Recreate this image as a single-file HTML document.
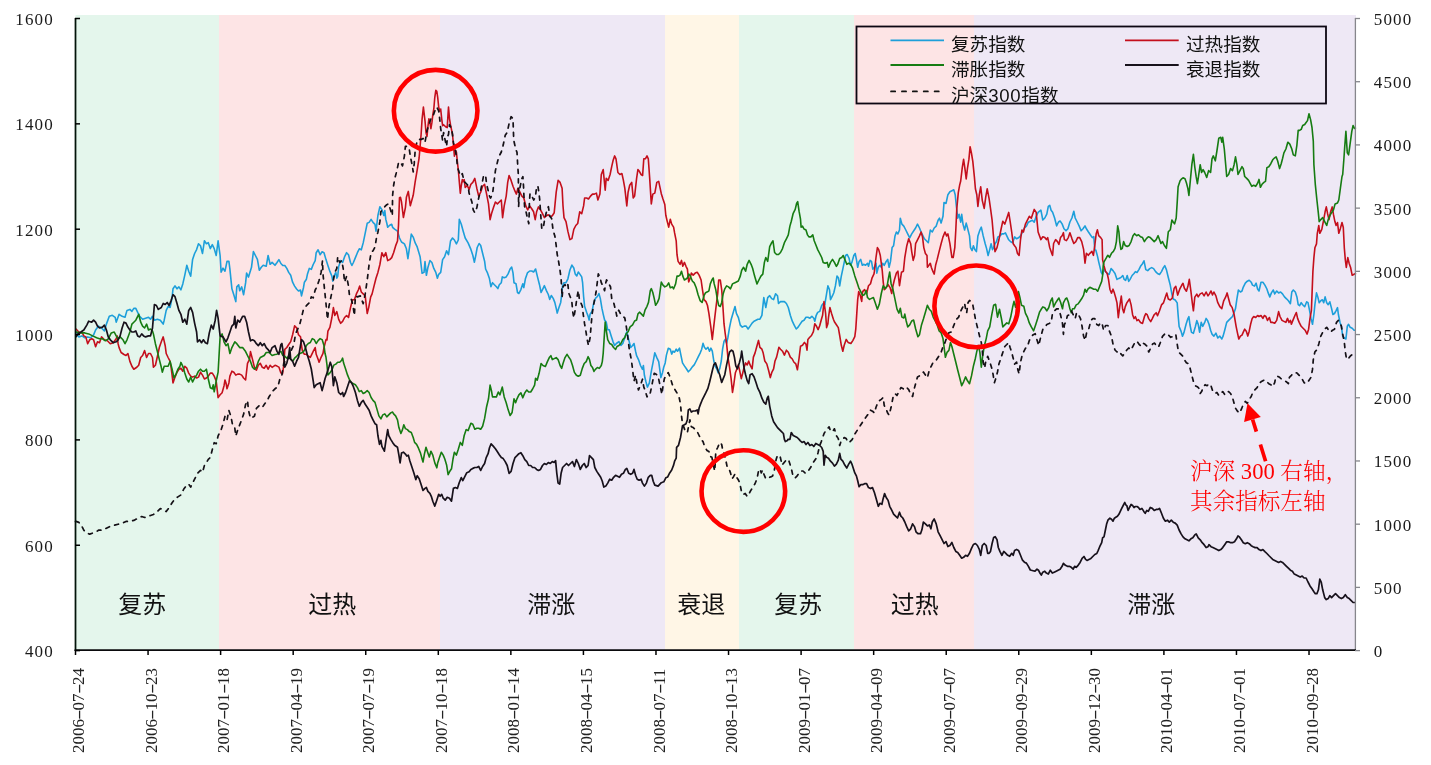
<!DOCTYPE html><html><head><meta charset="utf-8"><style>

html,body{margin:0;padding:0;background:#fff;}
body{width:1431px;height:765px;position:relative;overflow:hidden;}
.t{position:absolute;white-space:nowrap;line-height:1;}
.yl{font-family:"Liberation Serif",serif;font-size:17px;letter-spacing:1.2px;color:#1a1a1a;text-align:right;width:60px;}
.yr{font-family:"Liberation Serif",serif;font-size:17px;letter-spacing:1.2px;color:#1a1a1a;}
.dt{font-family:"Liberation Serif",serif;font-size:17px;color:#222;transform-origin:0 0;transform:rotate(-90deg);}
.dt i{font-style:normal;display:inline-block;width:.5em;text-align:center;transform:scaleX(1.8);}
.lg{font-family:"Liberation Sans","Noto Sans CJK SC",sans-serif;font-size:18.6px;color:#111;}
.ph{font-family:"Liberation Sans","Noto Sans CJK SC",sans-serif;font-size:24px;color:#111;}
.an{font-family:"Liberation Serif","Noto Serif CJK SC",serif;font-size:22.6px;color:#ff0000;font-weight:300;}

</style></head><body>
<svg width="1431" height="765" viewBox="0 0 1431 765" style="position:absolute;left:0;top:0"><rect x="75.5" y="15" width="143.5" height="636" fill="#e4f6ec"/><rect x="219" y="15" width="221.0" height="636" fill="#fde4e5"/><rect x="440" y="15" width="225.0" height="636" fill="#eee8f5"/><rect x="665" y="15" width="74.0" height="636" fill="#fff6e6"/><rect x="739" y="15" width="115.0" height="636" fill="#e4f6ec"/><rect x="854" y="15" width="120.0" height="636" fill="#fde4e5"/><rect x="974" y="15" width="382.0" height="636" fill="#eee8f5"/><path d="M75.5,333.9 L76.0,333.9 L78.9,336.9 L81.9,335.9 L84.8,337.8 L87.7,336.9 L90.7,337.8 L93.6,334.9 L95.6,330.0 L98.5,326.1 L101.5,328.0 L104.4,331.0 L106.4,324.1 L109.3,316.3 L112.3,315.3 L115.2,317.3 L116.2,322.2 L119.1,314.3 L122.1,316.3 L125.0,317.3 L127.0,310.4 L129.9,309.4 L131.9,311.4 L133.8,308.4 L135.8,308.4 L137.7,312.4 L139.7,316.3 L142.6,319.2 L145.6,318.2 L148.5,317.3 L150.5,319.2 L152.5,316.3 L154.4,320.2 L157.4,319.2 L160.3,320.2 L163.2,324.1 L164.2,320.2 L166.2,310.4 L168.1,306.5 L170.1,307.5 L172.1,297.6 L173.0,288.8 L175.0,285.9 L177.0,288.8 L178.9,286.9 L180.9,289.8 L182.8,283.9 L184.8,275.1 L186.8,265.3 L188.7,271.2 L190.7,276.1 L192.6,259.4 L194.6,253.5 L196.6,249.6 L198.5,243.7 L200.5,245.7 L202.5,253.5 L204.4,240.8 L206.4,243.7 L208.3,242.7 L210.3,248.6 L212.3,244.7 L214.2,248.6 L216.2,255.5 L218.1,240.8 L220.1,255.5 L221.1,272.2 L223.0,268.2 L225.0,271.2 L227.0,261.4 L228.9,261.4 L229.9,269.2 L231.9,288.8 L233.8,294.7 L235.8,301.6 L236.8,286.9 L238.7,284.9 L239.7,290.8 L241.7,286.9 L243.6,294.7 L245.6,282.9 L246.6,273.1 L248.5,277.1 L251.5,267.3 L253.4,251.6 L255.4,255.5 L257.4,259.4 L259.3,270.2 L261.3,267.3 L263.2,265.3 L266.2,266.3 L268.1,255.5 L270.1,264.3 L272.1,262.4 L275.0,265.3 L277.0,262.5 L278.9,259.6 L280.9,263.5 L282.8,265.5 L284.8,265.5 L286.8,268.4 L288.7,272.4 L290.7,275.3 L292.6,282.2 L294.6,286.1 L296.6,289.0 L298.5,291.0 L300.5,290.0 L301.5,295.9 L303.4,288.0 L304.4,282.2 L306.4,279.2 L307.4,274.3 L309.3,268.4 L311.3,269.4 L313.2,264.5 L315.2,260.6 L316.2,252.7 L318.1,249.8 L320.1,254.7 L322.1,251.8 L324.0,252.7 L326.0,259.6 L327.9,265.5 L329.9,271.4 L331.9,276.3 L332.8,281.2 L333.8,276.3 L335.8,272.4 L336.8,278.2 L337.7,276.3 L338.7,266.5 L340.7,260.6 L342.6,262.5 L344.6,256.7 L346.6,252.7 L348.5,254.7 L350.5,262.5 L351.9,265.5 L353.4,262.5 L355.4,257.6 L357.4,252.7 L359.3,248.8 L361.3,249.8 L363.2,242.9 L365.2,233.1 L367.2,223.3 L369.1,222.4 L371.1,219.4 L373.0,222.4 L375.0,224.3 L376.0,231.2 L377.9,215.5 L379.9,206.7 L381.9,209.6 L383.8,215.5 L384.8,210.6 L385.8,219.4 L386.8,223.3 L387.7,227.3 L389.7,225.3 L391.7,224.3 L392.6,227.3 L394.6,229.2 L397.5,231.2 L399.5,238.0 L401.5,242.0 L404.4,243.9 L406.4,248.8 L407.9,258.6 L409.3,248.8 L411.3,234.1 L413.2,237.1 L415.2,242.9 L417.2,246.9 L420.1,256.7 L422.1,273.3 L424.0,272.4 L425.0,261.6 L426.4,275.3 L427.9,267.5 L429.9,260.6 L431.9,262.5 L433.8,268.4 L435.8,272.4 L437.4,278.2 L438.7,274.3 L440.7,272.4 L442.6,259.6 L444.6,256.7 L446.6,250.8 L448.5,254.7 L450.5,241.0 L452.5,238.0 L454.4,240.0 L456.4,243.9 L458.3,240.0 L459.3,219.4 L461.3,224.3 L463.2,231.2 L465.2,238.0 L468.1,242.9 L470.9,249.4 L472.8,255.3 L474.4,262.2 L475.8,255.3 L477.2,247.5 L479.1,243.5 L480.7,245.5 L482.6,253.3 L484.6,261.2 L485.6,269.0 L487.5,272.9 L489.5,278.8 L490.9,286.7 L492.5,282.7 L494.4,284.7 L496.4,286.7 L497.9,288.6 L499.3,284.7 L501.3,282.7 L502.3,276.9 L504.2,277.8 L506.2,276.9 L508.1,273.9 L510.1,269.0 L511.7,267.1 L513.0,272.9 L514.0,282.7 L516.0,283.7 L517.5,292.5 L518.9,293.5 L520.9,289.6 L522.8,283.7 L523.8,287.6 L525.4,278.8 L527.4,272.9 L529.7,271.0 L531.7,271.0 L533.6,272.0 L535.6,269.0 L537.5,276.9 L539.5,284.7 L541.1,292.5 L543.0,288.6 L544.4,285.7 L546.4,290.6 L548.3,294.5 L549.7,299.4 L551.3,295.5 L553.2,298.4 L554.8,302.4 L556.2,308.2 L557.2,313.1 L558.7,308.2 L560.7,302.4 L561.7,294.5 L562.6,285.7 L564.0,282.7 L566.0,282.7 L567.9,278.8 L569.9,270.0 L571.9,265.1 L573.8,268.0 L575.2,273.9 L576.8,275.9 L578.3,272.0 L579.7,273.9 L581.7,276.9 L582.6,282.7 L583.6,296.5 L584.6,306.3 L586.6,312.2 L588.1,316.1 L589.1,320.0 L590.1,314.1 L592.1,311.2 L593.4,304.3 L595.4,298.4 L597.4,296.5 L598.9,293.5 L600.3,298.4 L601.9,308.2 L603.2,314.1 L604.6,320.0 L606.2,322.0 L607.7,329.8 L609.3,329.8 L611.1,335.7 L613.0,341.6 L614.6,345.5 L616.4,343.5 L618.9,341.6 L620.9,345.5 L622.8,343.5 L624.8,337.6 L626.8,331.8 L628.7,339.6 L630.7,347.5 L632.6,345.5 L634.0,343.5 L635.6,351.4 L636.6,355.7 L638.5,359.6 L640.5,365.5 L642.5,369.4 L643.4,365.5 L644.4,375.3 L645.8,381.2 L647.4,387.1 L649.3,383.1 L651.3,371.4 L653.2,361.6 L654.8,352.7 L656.8,357.6 L658.7,361.6 L660.9,377.6 L662.5,372.7 L663.8,366.9 L665.2,362.9 L666.4,355.1 L668.3,348.2 L670.3,349.2 L671.7,354.1 L673.0,351.2 L674.6,352.2 L676.2,349.2 L677.5,351.2 L679.5,348.2 L680.9,355.1 L682.5,362.9 L684.4,365.9 L686.4,368.8 L688.3,371.8 L690.3,369.8 L692.3,366.9 L694.2,364.9 L696.2,361.0 L698.1,357.1 L700.1,353.1 L701.7,349.2 L703.0,343.3 L704.4,347.3 L706.0,349.2 L707.9,347.3 L709.5,351.2 L710.9,348.2 L712.3,351.2 L713.8,361.0 L715.4,366.9 L716.8,368.8 L718.1,372.7 L719.7,368.8 L721.3,361.0 L722.6,349.2 L724.0,341.4 L725.2,339.4 L726.6,343.3 L727.9,337.5 L729.5,327.6 L731.1,319.8 L735.0,306.5 L736.4,313.3 L738.3,317.3 L740.3,325.1 L742.3,327.1 L744.2,326.1 L746.2,326.1 L748.1,329.0 L750.1,326.1 L752.1,323.1 L754.0,321.2 L756.0,320.2 L757.9,319.2 L759.9,319.2 L761.9,315.3 L763.8,297.6 L765.8,307.5 L767.7,297.6 L769.7,295.7 L771.7,298.6 L773.6,299.6 L775.6,293.7 L777.5,295.7 L778.5,303.5 L780.5,301.6 L782.5,301.6 L784.4,301.6 L786.4,303.5 L788.3,307.5 L790.3,315.3 L792.3,321.2 L794.2,325.1 L796.2,329.0 L798.1,327.1 L800.1,324.1 L802.1,321.2 L804.0,320.2 L806.0,317.3 L807.9,317.3 L809.9,318.2 L811.9,316.3 L813.8,318.2 L814.8,321.2 L816.2,315.3 L817.7,312.4 L819.7,311.4 L821.7,305.5 L823.2,303.5 L824.8,304.5 L826.6,293.7 L827.9,285.9 L829.5,289.8 L830.5,299.6 L832.5,295.7 L833.8,292.7 L835.4,285.9 L837.0,276.1 L838.5,278.0 L839.7,285.9 L841.3,276.1 L842.8,269.2 L844.2,262.4 L845.6,255.5 L847.2,254.5 L849.1,258.4 L850.5,265.3 L851.9,262.4 L853.8,255.5 L855.2,253.5 L856.4,259.4 L857.7,267.3 L859.1,261.4 L860.7,259.4 L862.3,265.3 L863.6,264.3 L865.6,265.3 L867.5,263.3 L868.5,266.3 L870.1,260.4 L871.5,261.4 L872.8,269.2 L874.4,267.3 L876.0,263.3 L876.8,273.1 L878.3,267.3 L879.9,265.3 L881.3,267.3 L882.6,263.3 L884.2,265.3 L886.2,261.4 L887.7,259.4 L889.1,267.3 L890.5,261.4 L892.1,247.6 L893.6,245.7 L895.0,235.9 L896.4,232.0 L897.9,233.9 L899.5,230.0 L900.3,218.2 L901.9,224.1 L903.8,226.1 L905.8,230.0 L907.7,233.9 L909.7,237.8 L911.7,233.9 L913.6,231.0 L915.6,228.0 L917.5,224.1 L919.5,228.0 L921.1,232.0 L922.5,234.9 L924.4,238.8 L926.4,240.8 L928.3,242.7 L930.3,230.0 L932.3,232.0 L934.2,228.0 L936.2,226.1 L938.1,220.2 L939.5,218.2 L941.1,223.1 L943.0,216.3 L944.0,202.5 L946.0,203.5 L947.9,194.7 L949.9,191.8 L951.9,190.8 L953.8,189.8 L955.2,194.7 L956.4,206.5 L957.7,218.2 L959.1,214.3 L960.7,222.2 L961.7,214.3 L963.0,224.1 L964.6,230.0 L966.2,223.1 L967.5,228.0 L969.5,235.9 L970.5,247.6 L972.1,250.6 L973.4,245.7 L974.8,249.6 L976.4,251.6 L977.9,235.9 L979.9,230.0 L981.3,227.1 L983.2,235.9 L985.2,243.7 L986.6,248.6 L988.1,255.5 L989.7,249.6 L991.1,243.7 L992.5,249.6 L993.6,247.6 L995.0,243.7 L996.4,241.8 L997.9,236.9 L999.9,235.9 L1001.9,233.9 L1003.8,233.9 L1005.4,232.9 L1006.8,235.9 L1008.7,239.8 L1010.7,241.8 L1012.6,242.7 L1014.6,236.9 L1016.6,238.8 L1018.5,237.8 L1020.5,235.9 L1022.5,232.0 L1024.4,228.0 L1026.4,226.1 L1028.3,222.2 L1030.3,221.2 L1032.3,220.2 L1034.2,222.2 L1036.2,216.3 L1038.1,212.4 L1040.9,210.2 L1042.8,220.0 L1044.8,218.0 L1046.8,214.1 L1048.3,206.3 L1049.7,205.3 L1051.1,210.2 L1052.6,212.2 L1054.6,218.0 L1056.6,225.9 L1058.5,222.0 L1060.1,221.0 L1062.1,223.9 L1064.0,228.8 L1066.0,230.8 L1067.9,228.8 L1069.9,222.0 L1071.9,218.0 L1073.8,211.2 L1075.2,218.0 L1077.2,222.0 L1079.1,225.9 L1081.1,230.8 L1083.0,228.8 L1085.0,225.9 L1086.4,228.8 L1088.3,231.8 L1090.3,234.7 L1092.3,237.6 L1093.8,236.7 L1094.8,250.0 L1095.8,250.0 L1097.4,255.9 L1098.7,261.8 L1100.1,267.6 L1101.3,272.5 L1102.6,274.5 L1104.0,269.6 L1105.6,271.6 L1107.2,273.5 L1109.1,274.5 L1111.1,268.6 L1113.0,270.6 L1115.0,273.5 L1117.0,279.4 L1118.9,278.4 L1120.9,277.5 L1122.8,275.5 L1124.2,279.4 L1125.6,280.4 L1127.2,275.5 L1128.7,281.4 L1130.1,279.4 L1132.1,275.5 L1134.0,273.5 L1135.4,271.6 L1137.0,272.5 L1138.9,269.6 L1140.9,265.7 L1142.5,263.7 L1144.0,260.8 L1145.8,269.6 L1147.7,270.6 L1149.7,268.6 L1151.7,267.6 L1153.6,268.6 L1155.6,271.6 L1157.5,273.5 L1159.5,274.5 L1161.5,271.6 L1163.4,267.6 L1164.8,265.7 L1166.4,269.6 L1168.3,277.5 L1170.3,285.3 L1171.9,294.1 L1173.2,299.0 L1175.2,300.0 L1177.2,302.9 L1178.1,314.7 L1179.1,326.5 L1181.1,331.4 L1182.5,336.3 L1184.0,332.4 L1186.0,324.5 L1187.9,318.6 L1188.9,316.7 L1189.9,324.5 L1191.5,332.4 L1193.4,333.3 L1195.4,326.5 L1196.8,320.6 L1198.2,324.3 L1199.6,332.2 L1201.2,322.4 L1202.7,326.3 L1204.7,322.4 L1206.1,318.4 L1207.5,320.4 L1209.0,324.3 L1210.6,330.2 L1212.0,334.1 L1213.9,336.1 L1215.9,333.1 L1217.8,338.0 L1219.8,336.1 L1221.8,339.0 L1223.1,336.1 L1224.7,330.2 L1226.7,322.4 L1228.6,320.4 L1230.6,318.4 L1232.5,316.5 L1234.1,312.5 L1235.5,308.6 L1236.9,298.8 L1238.4,290.0 L1240.4,292.0 L1242.0,291.0 L1243.3,287.1 L1245.3,283.1 L1247.3,281.2 L1249.2,280.2 L1251.2,282.2 L1252.5,285.1 L1254.5,286.1 L1256.1,283.1 L1257.6,289.0 L1259.0,291.0 L1261.0,282.2 L1262.9,282.2 L1264.9,285.1 L1266.9,289.0 L1268.2,292.9 L1269.8,296.9 L1271.4,292.9 L1273.3,290.0 L1274.7,293.9 L1276.7,291.0 L1278.6,292.9 L1280.6,292.0 L1282.5,293.9 L1284.5,296.9 L1286.5,298.8 L1288.4,300.8 L1290.4,303.7 L1291.8,292.0 L1293.3,290.0 L1295.3,292.0 L1296.9,296.9 L1298.2,304.7 L1299.6,305.7 L1301.2,302.7 L1302.7,304.7 L1304.7,306.7 L1306.7,301.8 L1308.0,302.7 L1309.4,309.6 L1311.0,318.4 L1312.5,324.3 L1313.9,314.5 L1314.9,304.7 L1316.5,292.9 L1317.8,296.9 L1319.2,302.7 L1320.8,300.8 L1322.4,299.8 L1323.7,302.7 L1325.1,296.9 L1326.7,302.7 L1328.2,304.7 L1329.8,301.8 L1331.6,308.6 L1332.9,314.5 L1334.5,313.5 L1336.1,310.6 L1337.5,307.6 L1338.4,314.5 L1340.0,322.4 L1341.4,326.3 L1342.7,336.1 L1344.3,338.0 L1345.9,339.0 L1347.3,326.3 L1348.6,324.3 L1350.2,327.3 L1352.2,328.2 L1354.1,330.2 L1355.7,330.2" fill="none" stroke="#1d9fda" stroke-width="1.6" stroke-linejoin="round"/><path d="M75.5,329.0 L76.0,329.0 L77.9,331.0 L79.9,332.9 L81.9,332.0 L83.8,335.9 L85.8,336.9 L87.7,343.7 L89.7,339.8 L91.7,338.8 L93.6,339.8 L95.6,346.7 L97.5,341.8 L99.5,342.7 L101.5,336.9 L104.4,339.8 L107.4,340.8 L110.3,343.7 L113.2,342.7 L116.2,338.8 L117.2,335.9 L118.1,343.7 L119.1,347.6 L121.1,352.5 L124.0,354.5 L126.0,355.5 L127.9,353.5 L129.9,361.4 L131.9,366.3 L133.8,369.2 L136.8,367.3 L138.7,365.3 L140.7,357.5 L142.6,355.5 L144.6,350.6 L146.6,357.5 L148.5,353.5 L150.5,353.5 L152.5,357.5 L153.4,367.3 L155.4,365.3 L157.4,356.5 L159.3,347.6 L161.3,341.8 L163.2,336.9 L165.2,345.7 L166.2,353.5 L168.1,357.5 L170.1,361.4 L171.1,367.3 L172.1,375.1 L173.0,382.9 L175.0,377.1 L177.0,372.2 L178.9,369.2 L180.9,368.2 L182.8,371.2 L184.8,366.3 L186.8,368.2 L188.7,373.1 L190.7,376.1 L192.6,377.1 L194.6,376.1 L196.6,378.0 L198.5,377.1 L200.5,372.2 L202.5,375.1 L204.4,379.0 L206.4,378.0 L208.3,376.1 L210.3,373.1 L212.3,373.1 L214.2,376.1 L216.2,381.0 L217.2,389.8 L218.1,397.6 L220.1,394.7 L222.1,392.7 L224.0,385.9 L225.0,380.0 L226.0,382.9 L227.0,388.8 L228.9,382.9 L229.9,376.1 L231.9,371.2 L233.8,372.2 L235.8,375.1 L237.7,374.1 L239.7,374.1 L241.7,375.1 L243.6,378.0 L245.6,380.0 L247.5,363.3 L249.5,359.4 L250.5,351.6 L252.5,359.4 L254.4,367.3 L256.4,370.2 L258.3,365.3 L260.3,363.3 L262.3,367.3 L264.2,368.2 L266.2,365.3 L268.1,369.2 L270.1,365.3 L272.1,367.3 L275.0,365.3 L277.0,366.1 L278.9,367.1 L280.9,372.9 L282.5,373.9 L283.8,365.1 L284.8,349.4 L286.8,347.5 L288.7,344.5 L290.7,341.6 L292.6,334.7 L294.6,325.9 L296.6,327.8 L298.5,334.7 L300.5,336.7 L301.5,345.5 L302.5,351.4 L304.4,354.3 L306.4,354.3 L308.3,356.3 L310.3,357.3 L311.3,355.3 L313.2,351.4 L315.2,347.5 L316.2,354.3 L318.1,359.2 L319.1,362.2 L321.1,357.3 L323.0,353.3 L324.0,347.5 L326.0,339.6 L327.0,340.0 L327.9,331.2 L329.9,327.3 L331.9,317.5 L333.4,307.6 L334.8,315.5 L336.8,311.6 L338.7,319.4 L340.7,323.3 L342.6,321.4 L344.6,317.5 L346.6,315.5 L348.5,317.5 L350.5,307.6 L352.5,299.8 L354.4,299.8 L356.4,293.9 L358.3,290.0 L359.7,286.1 L361.3,292.0 L363.2,293.9 L365.2,295.9 L367.2,313.5 L368.7,307.6 L370.7,296.9 L372.1,293.9 L374.0,286.1 L376.0,278.2 L377.9,272.4 L379.9,264.5 L381.9,252.7 L383.8,256.7 L385.8,252.7 L387.7,260.6 L389.7,259.6 L391.7,257.6 L393.6,252.7 L395.6,245.9 L397.5,241.0 L398.5,225.3 L399.5,197.8 L400.5,197.3 L401.5,201.8 L403.4,217.5 L405.4,207.6 L406.4,197.3 L408.3,191.4 L410.3,205.7 L413.2,195.3 L415.2,181.6 L417.2,169.8 L419.1,158.0 L420.1,146.3 L421.1,134.5 L422.1,118.8 L423.4,107.1 L425.0,120.8 L426.0,132.5 L427.0,136.5 L427.9,126.7 L428.9,118.8 L429.9,122.7 L430.9,128.6 L431.9,122.7 L432.8,114.9 L433.8,109.0 L434.8,97.3 L435.8,90.4 L436.8,91.4 L437.7,97.3 L438.7,107.1 L439.7,111.0 L440.7,109.0 L441.7,118.8 L442.6,125.7 L443.6,124.7 L445.6,126.7 L447.2,127.6 L448.5,107.1 L449.5,118.8 L450.5,124.7 L452.5,134.5 L453.4,144.3 L454.4,156.1 L455.4,150.2 L456.4,152.2 L457.4,162.0 L458.3,169.8 L459.3,181.6 L460.3,193.3 L461.3,185.5 L462.3,179.6 L463.2,181.6 L464.2,179.6 L465.2,187.5 L467.2,185.5 L469.1,189.4 L470.9,184.3 L472.8,182.4 L474.8,178.4 L476.8,188.2 L478.7,196.1 L480.7,192.2 L482.6,186.3 L484.6,184.3 L486.6,194.1 L488.5,203.9 L490.1,219.6 L491.5,213.7 L493.4,207.8 L495.4,202.0 L497.4,203.9 L499.3,202.0 L501.3,200.0 L502.6,217.6 L504.2,205.9 L506.2,196.1 L507.7,182.4 L509.1,175.5 L511.1,180.4 L513.0,186.3 L515.0,191.2 L516.4,194.1 L517.9,188.2 L519.9,192.2 L521.9,196.1 L523.8,198.0 L525.8,205.9 L527.7,209.8 L529.7,205.9 L531.7,208.8 L533.6,211.8 L535.2,219.6 L536.6,211.8 L538.5,206.9 L540.5,209.8 L542.5,213.7 L544.4,217.6 L546.4,215.7 L548.3,214.7 L550.3,216.7 L552.3,215.7 L554.2,212.7 L556.2,192.2 L558.1,180.4 L560.1,182.4 L562.1,188.2 L563.0,205.9 L564.0,217.6 L566.0,221.6 L567.9,231.4 L569.9,239.6 L571.9,238.6 L573.8,229.4 L575.8,225.5 L577.7,223.5 L579.7,211.8 L581.7,213.7 L583.6,205.9 L584.6,198.0 L586.6,198.0 L588.5,199.0 L590.5,196.1 L592.5,194.1 L594.4,194.1 L596.4,193.1 L597.9,200.0 L599.9,194.1 L601.3,174.5 L603.2,169.6 L605.2,190.2 L606.2,178.4 L608.1,180.4 L610.1,174.5 L611.7,166.7 L613.0,160.8 L614.6,155.9 L616.0,158.8 L617.9,172.5 L619.9,174.5 L621.9,173.5 L623.4,180.4 L624.8,188.2 L626.8,205.9 L628.1,192.2 L629.7,185.3 L631.7,182.4 L633.2,198.0 L634.6,196.1 L636.6,178.4 L637.9,169.6 L639.5,171.6 L641.1,174.5 L642.6,175.5 L643.8,158.8 L645.4,158.8 L647.0,155.9 L648.3,158.8 L649.7,178.4 L651.3,203.9 L652.8,194.1 L654.8,193.1 L656.8,182.4 L658.7,181.4 L661.3,193.7 L662.8,198.6 L664.8,204.5 L665.8,215.3 L667.2,221.2 L668.7,227.1 L670.3,219.2 L671.7,224.1 L673.6,227.1 L674.6,232.9 L676.2,240.8 L677.0,254.5 L678.1,261.4 L680.1,264.3 L681.5,260.4 L682.8,266.3 L684.4,262.4 L686.0,266.3 L687.4,269.2 L688.7,282.0 L689.9,279.0 L691.3,273.1 L693.2,275.1 L695.2,273.1 L697.2,272.2 L699.1,275.1 L701.1,280.0 L702.5,289.8 L704.0,299.6 L706.0,301.6 L707.5,305.5 L708.9,313.3 L710.9,327.6 L712.3,339.4 L713.4,329.6 L714.8,317.3 L716.2,305.5 L717.7,293.7 L718.7,280.0 L720.3,280.0 L721.7,289.8 L722.6,301.6 L723.6,317.3 L724.0,323.7 L725.2,333.5 L726.6,343.3 L727.9,357.1 L729.5,366.9 L731.1,378.6 L732.5,392.4 L733.8,384.5 L735.4,372.7 L737.0,368.8 L738.3,364.9 L739.7,370.8 L741.3,378.6 L742.8,372.7 L744.2,366.9 L745.6,362.9 L747.2,364.9 L748.7,361.0 L750.1,364.9 L752.1,368.8 L753.4,357.1 L755.0,353.1 L756.6,347.3 L758.5,340.4 L759.9,347.3 L761.9,349.2 L763.2,353.1 L764.8,361.0 L766.8,363.9 L768.7,370.8 L770.3,377.6 L771.7,372.7 L773.6,368.8 L775.0,361.0 L776.6,357.1 L778.9,347.3 L780.5,349.2 L782.5,351.2 L784.4,355.1 L786.4,350.2 L788.3,352.2 L790.3,357.1 L792.3,359.0 L793.8,362.0 L795.8,363.9 L797.4,369.8 L799.1,358.0 L800.5,346.3 L802.5,345.3 L804.4,342.4 L806.0,344.3 L807.0,350.2 L807.9,339.4 L809.5,337.5 L811.5,335.5 L813.4,331.6 L814.8,323.7 L816.2,325.7 L818.1,329.6 L819.7,325.7 L821.3,319.8 L822.6,315.3 L824.0,301.6 L825.6,313.3 L826.6,327.6 L827.9,323.7 L828.5,317.3 L829.9,307.5 L831.5,313.3 L833.4,319.2 L834.4,321.8 L836.4,324.7 L838.3,327.6 L839.7,335.5 L841.3,345.3 L842.8,351.2 L844.2,345.3 L846.2,339.4 L848.1,342.4 L850.9,343.5 L852.8,340.6 L854.8,336.7 L855.8,328.8 L856.8,313.1 L857.7,299.4 L858.7,291.6 L860.3,295.5 L861.7,301.4 L862.6,291.6 L864.6,289.6 L866.6,293.5 L868.5,285.7 L870.5,283.7 L872.1,277.8 L874.0,273.9 L874.4,271.2 L876.0,257.5 L877.4,247.6 L878.7,249.6 L880.3,255.5 L881.3,263.3 L882.3,271.2 L883.2,281.8 L884.2,289.6 L886.2,287.6 L888.1,284.7 L890.1,287.6 L891.7,293.5 L893.0,285.7 L894.4,279.8 L896.4,273.1 L897.9,271.2 L899.5,285.7 L901.5,272.2 L903.4,271.2 L904.8,257.5 L906.8,245.7 L908.7,238.8 L910.7,243.7 L911.7,251.6 L913.2,260.4 L914.6,255.5 L915.6,243.7 L917.5,239.8 L919.5,235.9 L921.1,232.0 L922.5,236.9 L923.8,247.6 L925.4,253.5 L927.0,255.5 L927.4,267.3 L928.9,265.3 L930.3,263.3 L931.3,267.3 L932.8,271.2 L934.2,274.1 L935.6,265.3 L937.2,259.4 L939.1,251.6 L941.1,243.7 L943.0,236.9 L945.0,232.0 L946.6,235.9 L947.9,233.9 L949.9,243.7 L951.9,257.5 L953.2,257.5 L954.8,247.6 L955.8,230.0 L956.8,208.4 L958.3,192.7 L959.7,184.9 L960.7,181.0 L962.3,167.3 L963.6,159.4 L965.0,169.2 L966.2,179.0 L967.5,168.2 L968.9,159.4 L970.1,146.7 L971.5,153.5 L972.8,161.4 L974.4,177.1 L975.4,188.8 L976.8,194.7 L977.9,206.5 L979.3,194.7 L980.7,186.9 L982.3,200.6 L984.2,208.4 L985.8,196.7 L987.2,188.8 L989.1,198.6 L990.5,208.4 L992.1,220.2 L993.6,237.8 L995.0,251.6 L997.0,247.6 L998.9,239.8 L1000.9,230.0 L1002.8,221.2 L1004.8,224.1 L1006.8,218.2 L1008.7,212.4 L1010.1,221.2 L1011.7,232.0 L1013.2,243.7 L1014.6,245.7 L1016.0,247.6 L1017.5,253.5 L1019.1,255.5 L1020.5,239.8 L1021.9,230.0 L1023.4,232.0 L1025.4,224.1 L1027.4,220.2 L1029.3,216.3 L1031.3,218.2 L1033.2,212.4 L1034.2,209.4 L1036.2,212.4 L1038.1,232.0 L1040.9,239.6 L1042.8,236.7 L1044.8,237.6 L1046.4,239.6 L1047.7,237.6 L1049.7,247.5 L1051.7,253.3 L1052.6,255.3 L1053.6,243.5 L1055.6,239.6 L1057.5,241.6 L1058.9,244.5 L1060.5,237.6 L1062.1,235.7 L1063.4,232.7 L1064.4,239.6 L1066.4,240.6 L1068.3,237.6 L1069.9,232.7 L1071.9,238.6 L1073.8,243.5 L1075.8,241.6 L1077.7,237.6 L1079.7,237.6 L1081.7,241.6 L1083.6,249.4 L1085.0,263.1 L1086.4,253.3 L1088.3,255.3 L1089.9,253.3 L1091.9,251.4 L1093.4,255.3 L1094.8,245.5 L1096.2,233.7 L1097.4,229.8 L1098.7,235.7 L1100.7,237.6 L1102.1,239.6 L1102.6,259.8 L1104.0,265.7 L1105.6,271.6 L1107.2,273.5 L1108.5,279.4 L1109.9,289.2 L1111.5,293.1 L1113.0,289.2 L1114.4,293.1 L1115.8,298.0 L1117.0,302.9 L1118.3,317.6 L1119.7,306.9 L1121.3,296.1 L1122.6,308.8 L1123.8,312.7 L1125.2,306.9 L1126.8,302.9 L1128.1,301.0 L1129.5,299.0 L1131.1,304.9 L1132.6,314.7 L1134.0,318.6 L1135.4,316.7 L1137.0,320.6 L1138.5,319.6 L1140.5,322.5 L1142.5,323.5 L1144.4,316.7 L1145.8,313.7 L1147.2,314.7 L1148.7,318.6 L1150.7,321.6 L1152.3,318.6 L1154.2,314.7 L1156.2,312.7 L1157.5,315.7 L1159.5,310.8 L1161.5,304.9 L1163.4,302.9 L1165.4,297.1 L1166.8,293.1 L1168.3,299.0 L1170.3,300.0 L1172.3,298.0 L1174.2,288.2 L1175.8,286.3 L1177.7,295.1 L1179.7,289.2 L1181.7,285.3 L1183.0,283.3 L1184.4,288.2 L1186.4,291.2 L1187.9,286.3 L1189.3,279.4 L1190.9,291.2 L1192.3,302.9 L1193.4,310.8 L1194.8,297.1 L1196.8,294.1 L1198.2,296.9 L1200.2,293.9 L1202.2,292.9 L1204.1,295.9 L1206.1,292.0 L1208.0,295.9 L1209.4,293.9 L1211.0,291.0 L1212.5,294.9 L1213.9,292.0 L1215.9,295.9 L1217.8,302.7 L1219.8,306.7 L1221.8,308.6 L1223.7,300.8 L1225.7,296.9 L1227.1,292.9 L1228.6,298.8 L1230.2,304.7 L1232.2,307.6 L1234.1,314.5 L1236.1,326.3 L1237.5,333.1 L1238.8,339.0 L1240.4,336.1 L1242.0,335.1 L1243.3,332.2 L1244.7,329.2 L1246.3,331.2 L1247.8,336.1 L1249.2,331.2 L1250.6,324.3 L1252.2,318.4 L1253.7,316.5 L1255.7,317.5 L1257.6,315.5 L1259.0,316.5 L1261.0,315.5 L1262.9,318.4 L1264.3,315.5 L1265.9,316.5 L1267.5,320.4 L1269.4,317.5 L1270.8,322.4 L1272.7,322.4 L1274.7,323.3 L1276.7,320.4 L1278.6,311.6 L1280.0,316.5 L1282.0,320.4 L1283.9,321.4 L1285.9,322.4 L1287.5,318.4 L1289.0,322.4 L1290.4,320.4 L1291.4,324.3 L1292.9,320.4 L1294.9,315.5 L1296.3,312.5 L1297.6,318.4 L1299.2,322.4 L1301.2,326.3 L1303.1,328.2 L1305.1,330.2 L1307.1,334.1 L1308.6,329.2 L1310.0,318.4 L1311.4,310.6 L1312.0,294.9 L1312.9,271.4 L1313.9,257.6 L1314.9,247.8 L1316.5,243.9 L1317.3,233.3 L1318.8,225.5 L1319.8,233.3 L1321.8,229.4 L1323.7,219.6 L1325.1,211.8 L1326.3,206.9 L1327.6,213.7 L1329.0,219.6 L1330.6,211.8 L1332.2,206.9 L1333.5,214.7 L1334.9,221.6 L1336.1,225.5 L1337.5,222.5 L1338.8,233.3 L1340.4,228.4 L1342.0,222.5 L1343.3,227.5 L1344.3,247.8 L1345.3,259.6 L1346.3,267.5 L1347.8,257.6 L1349.2,263.5 L1350.6,267.5 L1352.2,275.3 L1354.1,274.3 L1356.1,273.3" fill="none" stroke="#c40f1c" stroke-width="1.6" stroke-linejoin="round"/><path d="M75.5,332.0 L76.0,332.0 L80.9,332.9 L84.8,332.9 L88.7,333.9 L92.6,335.9 L96.6,337.8 L99.5,338.8 L102.5,338.8 L105.4,340.8 L108.3,338.8 L111.3,332.9 L114.2,332.0 L116.2,335.9 L118.1,338.8 L120.1,336.9 L123.0,339.8 L125.0,343.7 L127.0,339.8 L129.9,332.0 L131.9,324.1 L133.8,322.2 L135.8,320.2 L137.7,316.3 L138.7,314.3 L140.7,322.2 L142.6,326.1 L144.6,328.0 L146.6,324.1 L148.5,330.0 L150.5,329.0 L152.5,331.0 L153.4,333.9 L155.4,343.7 L157.4,351.6 L159.3,359.4 L161.3,367.3 L162.3,372.2 L164.2,366.3 L166.2,366.3 L168.1,366.3 L170.1,361.4 L172.1,369.2 L174.0,378.0 L176.0,374.1 L177.9,369.2 L179.9,366.3 L180.9,362.4 L182.8,366.3 L184.8,373.1 L186.8,379.0 L188.7,382.0 L190.7,377.1 L192.6,382.0 L194.6,378.0 L196.6,375.1 L198.5,371.2 L200.5,369.2 L202.5,371.2 L204.4,371.2 L206.4,369.2 L208.3,379.0 L210.3,387.8 L212.3,388.8 L213.2,384.9 L214.2,391.8 L216.2,381.0 L218.1,372.2 L220.1,336.9 L222.1,333.9 L224.0,341.8 L226.0,345.7 L227.9,343.7 L229.9,353.5 L231.9,347.6 L234.8,341.8 L236.8,343.7 L239.7,347.6 L242.6,347.6 L245.6,351.6 L248.5,357.5 L250.5,361.4 L252.5,367.3 L254.4,369.2 L256.4,367.3 L258.3,361.4 L260.3,357.5 L262.3,356.5 L264.2,355.5 L266.2,352.5 L269.1,352.5 L272.1,355.5 L275.0,354.5 L277.0,354.3 L278.9,352.4 L280.9,351.4 L282.8,355.3 L284.8,356.3 L286.8,358.2 L288.7,356.3 L290.7,359.2 L292.6,361.2 L294.6,358.2 L296.6,356.3 L298.5,354.3 L300.5,353.3 L302.5,352.4 L304.4,350.4 L306.4,345.5 L308.3,343.5 L310.3,342.5 L312.3,338.6 L314.2,339.6 L316.2,343.5 L318.1,340.6 L320.1,338.6 L322.1,339.6 L324.0,345.5 L325.0,353.3 L326.0,357.3 L327.0,365.1 L327.9,374.9 L329.9,372.9 L331.9,370.0 L333.8,365.1 L335.8,364.1 L337.7,362.2 L339.7,362.2 L341.7,360.2 L342.6,358.2 L343.6,363.1 L345.6,369.0 L347.5,374.9 L349.5,379.8 L351.5,382.7 L353.4,383.7 L355.4,384.7 L357.4,387.6 L359.3,391.6 L361.3,390.6 L363.2,393.5 L365.2,392.5 L367.2,390.6 L369.1,392.5 L371.1,397.5 L373.0,400.4 L375.0,402.4 L378.9,415.9 L380.9,418.8 L382.8,414.9 L384.8,413.9 L386.8,416.9 L388.7,414.9 L390.7,412.9 L392.6,412.0 L393.6,413.9 L395.6,415.9 L397.5,419.8 L398.9,427.6 L400.9,433.5 L402.5,429.6 L403.8,424.7 L405.4,428.6 L407.4,429.6 L409.3,431.6 L411.3,432.5 L413.2,437.5 L414.6,442.4 L416.6,444.3 L418.5,448.2 L420.5,453.1 L422.1,459.0 L423.0,462.0 L424.4,454.1 L426.0,447.3 L427.9,453.1 L429.3,457.1 L430.9,451.2 L432.8,455.1 L434.8,462.9 L436.8,467.8 L437.7,462.9 L439.3,458.0 L441.3,452.2 L443.2,455.1 L444.8,459.0 L446.6,464.9 L448.1,474.7 L449.5,471.8 L451.5,468.8 L453.0,459.0 L454.4,452.2 L456.4,455.1 L458.3,449.2 L460.3,442.4 L462.3,445.3 L464.2,435.5 L466.2,429.6 L468.1,430.6 L470.9,423.3 L472.8,424.3 L474.8,429.2 L476.8,428.2 L478.7,428.2 L480.7,429.2 L482.6,426.3 L484.6,418.4 L486.6,406.7 L488.5,398.8 L490.1,385.1 L491.5,391.0 L492.5,396.9 L494.4,396.9 L496.4,396.9 L498.3,392.0 L499.9,394.9 L502.3,387.1 L504.2,396.9 L506.2,402.7 L508.1,409.6 L510.1,415.5 L512.1,412.5 L514.0,398.8 L515.6,402.7 L517.0,398.8 L518.9,394.9 L520.9,392.9 L522.8,397.8 L524.8,392.9 L526.8,390.0 L528.7,392.0 L530.7,392.0 L532.6,389.0 L534.6,385.1 L535.6,378.2 L537.2,380.2 L539.1,373.3 L541.1,363.5 L543.0,365.5 L545.4,366.5 L547.4,361.6 L549.3,357.6 L550.9,355.7 L552.3,359.6 L554.2,358.6 L556.2,357.6 L558.1,359.6 L560.1,365.5 L561.7,368.4 L563.0,363.5 L565.0,357.6 L567.0,354.3 L568.5,356.7 L570.5,359.6 L572.5,365.5 L574.4,372.4 L576.4,375.3 L578.3,376.3 L580.3,375.3 L582.3,368.4 L584.2,363.5 L586.2,361.6 L588.1,356.7 L589.5,359.6 L590.9,365.5 L592.5,367.5 L594.0,371.4 L595.4,369.4 L597.4,367.5 L599.3,368.4 L601.3,365.5 L602.3,361.6 L603.2,353.3 L604.2,337.6 L605.2,322.0 L606.2,329.8 L607.7,339.6 L609.7,343.5 L611.7,344.5 L613.6,347.5 L615.6,349.4 L617.0,346.5 L618.9,345.5 L620.9,343.5 L622.8,339.6 L624.8,337.6 L626.2,333.7 L628.1,331.8 L630.1,326.9 L632.6,324.9 L634.6,321.0 L636.6,320.0 L637.9,314.1 L639.5,312.2 L641.5,314.1 L643.4,316.1 L645.0,310.2 L647.0,306.3 L648.5,302.4 L650.3,290.6 L651.3,288.6 L652.8,292.5 L654.2,298.4 L655.6,305.3 L657.5,302.4 L659.1,298.4 L661.3,282.0 L662.8,284.9 L664.8,286.9 L666.8,285.9 L668.7,282.9 L670.3,287.8 L672.3,286.9 L673.6,288.8 L675.6,283.9 L677.0,276.1 L678.5,276.1 L680.1,275.1 L681.5,271.2 L682.8,276.1 L684.4,280.0 L686.0,279.0 L687.4,278.0 L688.7,274.1 L690.3,276.1 L692.3,281.0 L694.2,282.9 L696.2,287.8 L698.1,294.7 L700.1,300.6 L702.1,302.5 L704.0,295.7 L705.6,292.7 L707.5,291.8 L708.9,290.8 L710.3,283.9 L711.9,280.0 L713.2,278.0 L714.2,283.9 L715.8,289.8 L717.4,299.6 L718.7,305.5 L720.3,306.5 L721.7,302.5 L723.2,293.7 L724.8,288.8 L726.6,285.9 L728.5,286.9 L730.5,288.8 L732.5,283.9 L734.4,282.9 L736.4,282.0 L738.3,281.0 L740.3,276.1 L741.7,270.2 L743.6,267.3 L745.6,271.2 L747.2,264.3 L749.1,260.4 L751.1,264.3 L752.6,268.2 L754.6,276.1 L757.0,283.9 L758.9,280.0 L760.9,276.1 L762.8,274.1 L764.4,262.4 L765.8,257.5 L767.7,261.4 L769.7,246.7 L771.7,242.7 L773.0,240.8 L774.6,252.5 L776.6,254.5 L778.5,254.5 L780.5,252.5 L782.5,248.6 L784.4,242.7 L786.4,238.8 L788.3,234.9 L789.9,226.1 L791.3,221.2 L793.2,213.3 L795.2,209.4 L796.6,203.5 L797.7,201.6 L799.1,211.4 L800.5,219.2 L801.1,227.1 L802.5,226.1 L804.0,229.0 L806.0,230.0 L807.5,234.9 L808.9,236.9 L810.9,236.9 L812.8,234.9 L814.2,240.8 L815.8,244.7 L817.7,249.6 L819.7,253.5 L821.7,257.5 L823.2,262.4 L825.2,263.3 L827.2,262.4 L828.5,267.3 L830.5,262.4 L832.5,259.4 L834.4,262.4 L836.4,266.3 L837.7,264.3 L839.7,258.4 L841.7,257.5 L843.2,255.5 L844.8,259.4 L846.8,264.3 L848.7,263.3 L850.7,264.3 L852.6,268.2 L854.8,275.9 L856.8,281.8 L858.7,287.6 L860.7,291.6 L862.6,295.5 L864.6,294.5 L866.2,290.6 L867.5,297.5 L869.5,299.4 L871.5,298.4 L873.4,297.5 L875.4,303.3 L877.4,309.2 L879.3,304.3 L881.3,293.5 L883.2,285.7 L885.2,288.6 L887.2,285.7 L888.5,277.8 L889.7,272.0 L891.1,283.7 L893.0,289.6 L895.0,299.4 L897.0,309.2 L898.9,313.1 L900.3,308.2 L901.9,317.1 L903.8,318.0 L904.8,314.1 L906.2,321.0 L907.7,326.9 L909.7,324.9 L911.7,321.0 L913.6,320.0 L915.6,328.8 L917.9,336.7 L919.5,334.7 L921.5,324.9 L923.4,319.0 L925.4,312.2 L927.4,305.3 L929.3,309.2 L931.3,311.2 L933.2,317.1 L935.2,321.0 L937.2,324.9 L939.1,330.8 L941.1,332.7 L943.0,338.6 L944.0,346.5 L945.4,357.3 L947.0,352.4 L948.9,350.4 L950.5,342.5 L951.9,346.5 L953.8,354.3 L955.8,362.2 L957.7,370.0 L959.7,377.8 L961.7,385.7 L963.6,381.8 L965.6,376.9 L967.5,380.8 L969.5,383.7 L971.5,375.9 L973.4,366.1 L975.4,358.2 L976.8,351.4 L978.3,345.5 L979.9,352.4 L981.3,367.1 L982.6,356.3 L984.2,346.5 L986.2,338.6 L987.7,330.8 L989.7,326.9 L991.7,315.1 L993.6,305.3 L995.6,304.3 L997.5,317.1 L999.5,309.2 L1001.5,319.0 L1002.8,326.9 L1004.8,324.9 L1006.8,322.9 L1008.7,323.9 L1010.7,317.1 L1012.6,307.3 L1014.0,301.4 L1015.6,307.3 L1017.5,299.4 L1018.5,291.6 L1019.9,297.5 L1021.5,305.3 L1023.8,306.3 L1025.4,313.1 L1027.4,317.1 L1029.3,322.9 L1031.3,326.9 L1033.6,330.8 L1035.6,324.9 L1037.5,319.0 L1039.5,312.2 L1040.9,309.8 L1042.8,306.9 L1044.8,307.8 L1046.8,310.8 L1048.7,307.8 L1050.7,301.0 L1052.3,298.0 L1053.6,306.9 L1055.6,302.9 L1057.5,300.0 L1058.9,298.0 L1060.5,302.0 L1062.5,308.8 L1063.4,302.9 L1065.4,299.0 L1066.8,298.0 L1068.3,302.0 L1069.9,308.8 L1071.3,312.7 L1072.6,308.8 L1074.2,308.8 L1076.2,304.9 L1078.1,303.9 L1080.1,301.0 L1082.1,298.0 L1083.6,295.1 L1085.0,289.2 L1086.4,292.2 L1087.9,289.2 L1089.9,287.3 L1091.9,288.2 L1093.8,289.2 L1095.8,289.2 L1097.7,291.2 L1099.7,286.3 L1101.7,281.4 L1102.6,275.5 L1103.2,265.7 L1104.0,261.8 L1106.6,257.3 L1107.9,255.3 L1109.5,257.3 L1111.5,253.3 L1113.4,251.4 L1115.0,248.4 L1116.4,241.6 L1117.7,225.9 L1118.9,231.8 L1119.7,241.6 L1120.9,249.4 L1122.3,248.4 L1123.6,241.6 L1125.2,245.5 L1127.2,246.5 L1129.1,245.5 L1131.1,241.6 L1133.0,235.7 L1134.6,233.7 L1136.6,235.7 L1138.5,234.7 L1140.5,236.7 L1142.5,237.6 L1144.4,241.6 L1146.4,238.6 L1148.3,236.7 L1150.3,237.6 L1152.3,239.6 L1154.2,241.6 L1156.2,239.6 L1158.1,235.7 L1159.5,239.6 L1160.9,243.5 L1162.5,241.6 L1164.4,245.5 L1166.4,248.4 L1168.3,231.8 L1170.3,229.8 L1171.9,220.0 L1173.2,222.0 L1174.6,223.9 L1176.2,218.0 L1177.2,202.4 L1178.1,186.7 L1180.1,180.8 L1181.7,178.8 L1183.0,177.8 L1185.0,178.8 L1186.4,182.7 L1187.9,188.6 L1188.9,195.5 L1190.3,180.8 L1191.9,164.1 L1193.4,154.3 L1194.8,167.1 L1196.2,176.9 L1197.4,183.7 L1198.2,178.4 L1200.2,164.7 L1201.6,172.5 L1203.1,169.6 L1204.7,172.5 L1206.7,177.5 L1208.6,170.6 L1210.6,172.5 L1212.0,158.8 L1213.3,155.9 L1215.3,160.8 L1216.9,151.0 L1218.8,138.2 L1220.8,137.3 L1221.8,142.2 L1222.7,137.3 L1224.3,149.0 L1225.7,164.7 L1226.7,176.5 L1228.6,174.5 L1230.6,168.6 L1232.5,170.6 L1234.1,164.7 L1235.5,156.9 L1236.9,164.7 L1238.0,174.5 L1240.0,170.6 L1242.0,166.7 L1243.3,168.6 L1244.7,176.5 L1246.7,178.4 L1248.6,180.4 L1250.2,183.3 L1251.8,186.3 L1253.7,185.3 L1255.7,186.3 L1257.6,183.3 L1259.0,179.4 L1260.4,187.3 L1262.0,184.3 L1263.9,182.4 L1265.5,181.4 L1266.9,167.6 L1268.8,166.7 L1270.8,163.7 L1272.7,159.8 L1274.7,157.8 L1276.1,156.9 L1277.6,160.8 L1279.6,168.6 L1281.2,163.7 L1282.5,158.8 L1283.9,152.9 L1285.9,149.0 L1287.8,142.2 L1289.8,144.1 L1291.8,149.0 L1293.3,154.9 L1295.3,155.9 L1296.9,145.1 L1298.2,130.4 L1299.6,130.4 L1301.2,129.4 L1302.7,125.5 L1304.7,124.5 L1306.1,122.5 L1307.5,120.6 L1309.0,113.7 L1310.6,119.6 L1312.0,127.5 L1313.3,141.2 L1313.9,164.7 L1315.3,184.3 L1316.9,200.0 L1318.4,213.7 L1319.2,221.6 L1320.8,219.6 L1322.7,217.6 L1324.7,221.6 L1326.7,225.5 L1328.2,219.6 L1329.8,215.7 L1331.6,212.7 L1333.5,209.8 L1335.1,203.9 L1337.5,202.9 L1338.8,200.0 L1340.4,188.2 L1342.0,176.5 L1342.7,174.5 L1343.9,158.8 L1344.7,147.1 L1345.9,131.4 L1347.3,152.9 L1348.6,154.9 L1350.2,143.1 L1351.8,131.4 L1353.1,125.5 L1354.5,128.4 L1356.1,128.4" fill="none" stroke="#167c12" stroke-width="1.6" stroke-linejoin="round"/><path d="M75.5,336.9 L76.0,336.9 L77.9,333.9 L80.9,332.0 L83.8,330.0 L86.8,325.1 L88.7,321.2 L91.7,322.2 L93.6,320.2 L95.6,322.2 L97.5,326.1 L99.5,328.0 L102.5,327.1 L104.4,325.1 L106.4,330.0 L108.3,336.9 L110.3,339.8 L113.2,342.7 L116.2,341.8 L118.1,339.8 L120.1,335.9 L122.1,328.0 L124.0,322.2 L126.0,323.1 L127.9,327.1 L129.9,330.0 L131.9,332.0 L133.8,332.0 L135.8,331.0 L137.7,335.9 L139.7,336.9 L141.7,333.9 L143.6,335.9 L145.6,336.9 L148.5,335.9 L150.5,335.9 L152.5,328.0 L154.4,304.5 L156.4,305.5 L158.3,309.4 L161.3,307.5 L163.2,303.5 L165.2,304.5 L167.2,302.5 L169.1,305.5 L171.1,300.6 L173.0,294.7 L175.0,296.7 L177.0,303.5 L178.9,310.4 L180.9,314.3 L182.8,322.2 L184.8,319.2 L186.8,324.1 L188.7,310.4 L190.7,307.5 L192.6,312.4 L194.6,323.1 L196.6,332.0 L197.5,341.8 L199.5,339.8 L201.5,342.7 L203.4,339.8 L205.4,342.7 L207.4,343.7 L209.3,332.9 L211.3,325.1 L213.2,329.0 L215.2,320.2 L216.6,310.4 L218.1,318.2 L220.1,335.9 L223.0,336.9 L226.0,341.8 L227.9,337.8 L229.9,332.0 L231.9,326.1 L233.8,324.1 L234.8,316.3 L235.8,328.0 L237.7,320.2 L239.7,322.2 L242.6,316.3 L244.6,316.3 L246.6,322.2 L248.5,332.0 L250.5,340.8 L252.5,339.8 L254.4,340.8 L256.4,343.7 L258.3,345.7 L260.3,342.7 L262.3,345.7 L264.2,343.7 L266.2,347.6 L268.1,349.6 L270.1,352.5 L272.1,347.6 L275.0,345.7 L277.0,351.4 L278.9,354.3 L280.9,344.5 L281.9,343.5 L282.8,349.4 L283.8,357.3 L284.8,367.1 L286.8,363.1 L288.7,355.3 L289.7,347.5 L290.7,359.2 L292.6,361.2 L294.6,366.1 L296.6,361.2 L298.5,357.3 L300.5,345.5 L301.5,339.6 L303.4,341.6 L305.4,347.5 L307.4,355.3 L309.3,361.2 L311.3,369.0 L313.2,380.8 L314.2,387.6 L316.2,384.7 L318.1,383.7 L320.1,382.7 L322.1,390.6 L323.6,384.7 L325.0,378.8 L327.0,372.9 L328.9,367.1 L330.3,362.2 L331.9,367.1 L333.4,385.7 L334.8,376.9 L336.8,382.7 L338.7,392.5 L340.7,394.5 L342.6,392.5 L343.6,396.5 L345.6,392.5 L347.5,386.7 L349.5,380.8 L351.5,382.7 L353.4,386.7 L355.4,392.5 L357.4,400.4 L359.3,406.3 L361.3,402.4 L363.2,400.4 L365.2,404.3 L367.2,407.3 L369.1,410.2 L371.1,415.9 L373.0,419.8 L375.0,423.7 L376.6,424.7 L377.9,435.5 L379.5,444.3 L380.9,440.4 L381.9,446.3 L384.4,451.2 L385.8,441.4 L387.7,429.6 L388.7,435.5 L390.7,439.4 L392.6,442.4 L394.6,445.3 L397.5,447.3 L398.9,455.1 L400.1,462.9 L401.5,453.1 L403.4,452.2 L405.4,454.1 L406.8,456.1 L408.3,455.1 L409.9,461.0 L411.9,466.9 L413.8,472.7 L415.8,479.6 L417.2,475.7 L419.1,478.6 L421.1,484.5 L423.0,490.4 L425.0,488.4 L426.4,487.5 L427.9,491.4 L429.9,493.3 L431.3,496.3 L432.8,501.2 L434.8,506.1 L436.8,500.2 L438.7,494.3 L440.1,496.3 L441.7,494.3 L443.2,498.2 L445.2,500.2 L447.2,497.3 L449.5,498.2 L451.5,501.2 L453.4,488.4 L455.4,487.5 L457.4,488.4 L459.3,482.5 L461.3,477.6 L462.8,480.6 L464.8,476.7 L466.8,472.7 L469.1,471.8 L470.9,469.4 L472.8,468.4 L474.8,467.5 L476.8,467.5 L478.7,466.5 L480.7,470.4 L482.6,466.5 L484.6,463.5 L486.2,457.6 L488.1,453.7 L489.5,447.8 L491.1,443.9 L493.0,445.9 L495.4,448.8 L497.4,451.8 L499.3,454.7 L501.3,457.6 L503.2,458.6 L505.2,461.6 L507.2,465.5 L509.1,473.3 L511.1,471.4 L513.0,463.5 L515.0,457.6 L517.0,455.7 L518.9,453.7 L520.9,452.7 L522.8,455.7 L524.8,459.6 L526.8,461.6 L528.7,465.5 L530.7,465.5 L532.6,467.5 L534.6,467.5 L536.6,469.4 L538.5,470.4 L540.5,469.4 L542.5,465.5 L544.4,463.5 L546.4,464.5 L548.3,462.5 L550.3,463.5 L552.3,461.6 L554.2,462.5 L555.6,460.6 L556.8,473.3 L558.1,483.1 L559.7,484.1 L561.1,473.3 L562.6,467.5 L564.6,465.5 L566.6,463.5 L568.5,465.5 L570.5,463.5 L572.5,461.6 L574.4,466.5 L576.4,459.6 L578.3,463.5 L580.3,469.4 L582.3,465.5 L584.2,463.5 L586.2,467.5 L588.1,465.5 L589.5,455.7 L591.5,457.6 L593.4,459.6 L594.8,467.5 L596.8,471.4 L598.7,474.3 L600.7,477.3 L602.3,481.2 L603.8,487.1 L605.8,486.1 L607.7,483.1 L609.7,479.2 L611.7,480.2 L613.6,477.3 L615.6,475.3 L617.5,476.3 L619.5,477.3 L621.5,474.3 L623.4,473.3 L625.4,469.4 L626.8,468.4 L628.7,473.3 L630.7,474.3 L632.6,473.3 L634.0,469.4 L635.6,475.3 L637.2,479.2 L639.1,480.2 L641.1,479.2 L642.5,483.1 L644.4,486.1 L646.4,483.1 L648.3,477.3 L650.3,475.3 L651.7,475.3 L653.2,481.2 L654.8,485.1 L658.1,486.1 L661.3,482.7 L663.8,481.8 L665.8,477.8 L667.7,476.9 L669.7,472.9 L671.7,470.0 L673.6,465.1 L674.6,461.2 L676.2,458.2 L676.6,447.3 L678.5,445.3 L680.5,437.5 L681.5,431.6 L682.5,425.7 L684.4,424.7 L686.0,423.7 L687.4,419.8 L688.3,410.0 L689.9,409.0 L691.3,412.0 L693.2,411.0 L695.2,411.0 L697.2,410.0 L698.1,413.9 L699.1,408.0 L700.5,404.1 L702.1,400.2 L704.0,396.3 L706.0,392.4 L707.9,388.4 L709.5,382.5 L710.9,376.7 L712.3,370.8 L713.8,364.9 L715.4,362.9 L716.8,366.9 L718.1,370.8 L719.7,374.7 L721.7,382.5 L723.2,378.6 L724.8,374.7 L726.6,364.9 L727.9,359.0 L729.5,352.2 L731.5,350.2 L733.0,351.2 L734.4,357.1 L735.8,365.9 L737.4,368.8 L739.3,362.9 L740.9,357.1 L741.7,351.2 L742.8,359.0 L744.2,368.8 L745.6,374.7 L747.2,380.6 L748.7,383.5 L750.1,374.7 L752.1,373.7 L754.0,376.7 L756.0,382.5 L757.9,388.4 L759.9,392.4 L761.9,398.2 L763.8,402.2 L765.8,404.1 L767.2,398.2 L768.3,396.3 L769.7,406.1 L771.7,415.9 L773.6,421.8 L775.6,424.7 L777.5,427.6 L779.5,429.6 L781.5,431.6 L783.4,433.5 L784.4,439.4 L785.4,441.6 L787.4,440.6 L787.9,439.4 L789.9,439.4 L791.3,432.5 L793.2,435.5 L795.2,436.5 L797.2,437.5 L799.1,439.4 L800.1,440.6 L802.1,442.5 L804.0,441.6 L806.0,444.5 L807.9,442.5 L809.9,445.5 L811.9,444.5 L813.8,446.5 L815.8,443.5 L817.7,444.5 L819.7,445.5 L821.7,447.5 L823.2,451.4 L824.0,465.1 L825.2,455.3 L826.6,457.3 L828.5,458.2 L830.5,461.2 L832.5,463.1 L834.4,466.1 L836.4,464.1 L838.3,460.2 L839.7,453.3 L840.9,459.2 L842.8,461.2 L844.8,465.1 L846.8,468.0 L848.7,464.1 L850.5,461.2 L851.9,464.1 L853.2,468.0 L854.8,472.9 L856.4,475.9 L857.7,480.8 L859.1,486.7 L860.7,484.7 L862.6,484.7 L864.6,483.7 L866.6,483.7 L868.5,487.6 L870.5,488.6 L872.5,487.6 L874.4,492.5 L876.4,499.4 L878.3,506.3 L879.9,503.3 L881.9,504.3 L883.2,498.4 L884.6,493.5 L886.2,497.5 L888.1,500.4 L889.7,506.3 L891.7,510.2 L893.6,514.1 L895.6,516.1 L897.5,518.0 L899.5,512.2 L900.9,516.1 L902.8,518.0 L904.8,522.0 L906.8,526.9 L908.7,530.8 L910.7,528.8 L912.6,523.9 L914.6,526.9 L916.0,531.8 L917.9,533.7 L920.5,533.7 L921.9,529.8 L923.4,522.0 L925.4,523.9 L927.4,525.9 L929.3,524.9 L930.9,528.8 L932.3,522.0 L934.2,519.0 L936.2,523.9 L938.1,531.8 L940.1,535.7 L942.1,539.6 L944.0,543.5 L946.0,541.6 L947.9,546.5 L949.9,545.5 L951.9,542.5 L953.8,547.5 L955.8,551.4 L957.7,552.4 L959.7,555.3 L961.7,558.2 L963.6,557.3 L965.6,555.3 L967.5,556.3 L969.5,553.3 L971.5,548.4 L973.4,544.5 L975.4,543.5 L977.4,545.5 L979.3,549.4 L980.7,555.3 L982.3,545.5 L984.2,543.5 L986.2,545.5 L987.7,553.3 L989.1,553.3 L990.5,551.4 L992.1,543.5 L993.6,537.6 L995.2,536.7 L997.0,539.6 L998.3,547.5 L999.9,551.4 L1001.9,555.3 L1003.8,551.4 L1005.8,553.3 L1007.7,555.3 L1009.7,556.3 L1011.7,553.3 L1013.2,555.3 L1014.6,550.4 L1016.6,549.4 L1018.5,550.4 L1020.5,555.3 L1022.5,560.2 L1024.4,562.2 L1026.4,563.1 L1028.3,566.1 L1030.3,570.0 L1035.0,571.2 L1037.0,569.2 L1038.5,570.2 L1039.9,573.1 L1041.3,575.1 L1042.8,572.2 L1044.8,571.2 L1046.4,573.1 L1048.3,574.1 L1050.3,570.2 L1052.3,573.1 L1054.2,572.2 L1056.2,571.2 L1058.1,570.2 L1060.1,569.2 L1062.1,566.3 L1063.4,563.3 L1065.4,565.3 L1067.4,566.3 L1069.3,566.3 L1071.3,567.3 L1073.2,569.2 L1074.6,566.3 L1076.2,567.3 L1078.1,565.3 L1080.1,562.4 L1082.1,558.4 L1084.0,556.5 L1085.6,559.4 L1087.0,560.4 L1088.9,559.4 L1090.9,558.4 L1092.8,556.5 L1094.8,554.5 L1096.8,553.5 L1098.1,550.6 L1099.7,546.7 L1101.7,542.7 L1102.6,537.8 L1104.0,536.9 L1105.2,531.0 L1106.6,524.1 L1107.9,520.2 L1109.9,518.2 L1111.5,519.2 L1113.0,521.2 L1114.4,518.2 L1115.8,517.3 L1117.4,516.3 L1118.9,514.3 L1120.3,511.4 L1121.7,508.4 L1123.2,505.5 L1124.8,502.5 L1126.2,505.5 L1126.8,505.5 L1128.1,510.4 L1129.5,507.5 L1131.1,504.5 L1132.6,505.5 L1134.0,507.5 L1135.4,506.5 L1137.0,506.5 L1138.5,507.5 L1139.9,509.4 L1141.9,508.4 L1143.8,511.4 L1145.2,513.3 L1146.8,510.4 L1148.3,511.4 L1150.3,507.5 L1152.3,508.4 L1154.2,510.4 L1156.2,509.4 L1158.1,509.4 L1159.5,508.4 L1161.5,513.3 L1163.4,518.2 L1165.4,521.2 L1167.4,520.2 L1169.3,522.2 L1171.3,520.2 L1173.2,522.2 L1175.2,523.1 L1177.2,525.1 L1179.1,530.0 L1181.1,533.9 L1183.0,536.9 L1185.0,538.8 L1187.0,539.8 L1188.9,540.8 L1190.9,538.8 L1192.8,537.8 L1194.8,534.9 L1196.2,533.9 L1198.2,537.8 L1200.2,539.8 L1202.2,542.7 L1204.1,544.7 L1206.1,547.6 L1208.0,546.7 L1209.0,544.7 L1211.0,546.7 L1212.9,547.6 L1214.9,548.6 L1216.9,549.6 L1218.8,550.6 L1220.8,549.6 L1222.7,547.6 L1224.7,544.7 L1226.7,541.8 L1228.6,541.8 L1230.6,542.7 L1232.5,542.7 L1234.5,541.8 L1236.5,538.8 L1238.0,535.9 L1239.4,536.9 L1241.4,539.8 L1243.3,542.7 L1245.3,543.7 L1247.3,542.7 L1249.2,543.7 L1251.2,545.7 L1253.1,546.7 L1255.1,547.6 L1257.1,547.6 L1259.0,549.6 L1261.0,550.6 L1262.9,549.6 L1264.9,551.6 L1266.9,553.5 L1268.8,555.5 L1270.8,557.5 L1272.7,559.4 L1274.7,560.4 L1276.7,561.4 L1278.6,562.4 L1280.6,561.4 L1282.5,562.4 L1284.5,564.3 L1286.5,566.3 L1288.4,568.2 L1290.4,570.2 L1292.4,571.2 L1294.3,574.1 L1296.3,575.1 L1298.2,576.1 L1300.2,577.1 L1302.2,576.1 L1304.1,578.0 L1306.1,578.0 L1308.0,582.0 L1310.0,585.9 L1312.0,588.8 L1313.9,591.8 L1315.3,593.7 L1316.9,593.7 L1318.4,589.8 L1319.8,579.0 L1321.2,582.0 L1322.7,589.8 L1324.7,597.6 L1326.3,599.6 L1328.2,598.6 L1329.8,595.7 L1331.6,597.6 L1333.5,595.7 L1335.5,593.7 L1337.5,595.7 L1339.4,597.6 L1341.4,598.6 L1343.3,597.6 L1345.3,594.7 L1347.3,597.6 L1349.2,598.6 L1351.2,600.6 L1353.1,602.5 L1355.1,602.5" fill="none" stroke="#17111b" stroke-width="1.7" stroke-linejoin="round"/><path d="M75.5,521.4 L76.0,521.4 L78.9,522.4 L81.9,526.3 L83.8,530.2 L86.8,533.1 L89.7,534.1 L92.6,533.1 L95.6,532.2 L98.5,530.2 L102.5,530.2 L106.4,528.2 L110.3,526.3 L114.2,525.3 L118.1,524.3 L122.1,523.3 L126.0,521.4 L129.9,521.4 L133.8,520.4 L137.7,518.4 L141.7,516.5 L144.6,517.5 L147.5,516.5 L150.5,515.5 L153.4,514.5 L156.4,512.5 L160.3,508.6 L163.2,509.6 L166.2,511.6 L169.1,507.6 L172.1,502.7 L175.0,498.8 L177.9,496.9 L180.9,494.9 L183.8,489.0 L186.8,485.1 L188.7,484.1 L190.7,487.1 L192.6,483.1 L194.6,479.2 L197.5,473.3 L200.5,470.4 L202.5,472.4 L204.4,465.5 L206.4,462.5 L208.3,459.4 L210.3,457.5 L212.3,449.6 L214.2,442.7 L216.2,443.7 L218.1,435.9 L221.1,430.0 L223.0,424.1 L225.0,416.3 L227.0,420.2 L228.9,410.4 L230.9,416.3 L232.8,426.1 L234.8,428.0 L235.8,435.9 L237.7,430.0 L240.7,422.2 L243.6,414.3 L245.6,404.5 L247.5,400.6 L248.5,410.4 L250.5,418.2 L252.5,417.3 L254.4,416.3 L256.4,408.4 L259.3,405.5 L262.3,407.5 L264.2,404.5 L267.2,400.6 L269.1,396.7 L272.1,391.8 L275.0,388.8 L277.9,386.7 L279.9,378.8 L281.9,374.9 L283.8,363.1 L286.8,359.2 L289.7,358.2 L290.7,351.4 L293.6,345.5 L295.6,333.7 L299.5,325.3 L301.5,317.5 L303.4,309.6 L306.4,305.7 L309.3,302.7 L311.3,296.9 L313.2,297.8 L315.2,290.0 L317.2,286.1 L319.1,280.2 L321.1,272.4 L322.5,260.6 L323.0,274.3 L324.0,284.1 L325.0,293.9 L326.4,307.6 L327.5,319.4 L328.9,306.7 L330.9,296.9 L332.8,288.0 L333.4,280.2 L334.8,272.4 L336.8,268.4 L337.7,256.7 L339.7,262.5 L341.7,260.6 L343.2,268.4 L344.6,282.2 L346.6,276.3 L348.5,286.1 L349.5,295.9 L351.5,299.8 L353.0,305.7 L354.4,315.5 L355.4,295.9 L357.4,296.9 L360.3,295.9 L363.2,303.7 L365.2,293.9 L367.2,280.2 L369.1,264.5 L371.1,252.7 L373.0,250.8 L375.0,246.9 L376.6,237.1 L377.9,232.2 L379.9,221.4 L380.9,211.6 L382.8,209.6 L384.8,206.7 L386.8,204.7 L388.7,203.7 L390.7,210.6 L392.3,215.5 L392.6,195.3 L393.6,185.5 L395.0,177.6 L396.6,171.8 L398.5,162.9 L400.5,162.0 L402.5,165.9 L404.4,156.1 L405.4,146.3 L407.4,146.3 L409.3,149.2 L410.3,156.1 L412.3,165.9 L413.2,171.8 L414.2,163.9 L415.2,150.2 L417.2,140.4 L419.1,139.4 L421.1,139.4 L423.0,138.4 L425.0,142.4 L427.0,130.6 L428.9,124.7 L430.9,118.8 L432.8,116.9 L434.8,111.0 L436.8,107.1 L438.7,111.0 L439.7,118.8 L440.7,128.6 L441.7,134.5 L442.6,140.4 L443.6,132.5 L445.6,142.4 L446.6,146.3 L447.5,136.5 L448.5,134.5 L449.5,124.7 L451.5,128.6 L452.5,134.5 L453.4,142.4 L455.4,150.2 L456.4,156.1 L457.4,165.9 L458.3,169.8 L460.3,175.7 L462.3,173.7 L464.2,181.6 L466.2,183.5 L468.1,185.5 L469.1,193.3 L471.9,202.0 L473.2,209.8 L474.8,212.7 L476.8,207.8 L478.7,198.0 L480.7,190.2 L482.3,182.4 L483.6,175.5 L485.6,175.5 L486.6,184.3 L488.1,190.2 L489.5,196.1 L490.5,198.0 L492.5,194.1 L494.0,182.4 L495.4,170.6 L496.8,164.7 L498.7,156.9 L501.3,152.0 L503.2,145.1 L505.2,135.3 L507.2,132.4 L509.1,123.5 L511.1,116.7 L513.0,118.6 L513.7,140.0 L515.7,149.0 L517.0,152.4 L517.6,163.5 L518.3,173.9 L518.4,182.9 L518.5,194.9 L518.6,206.7 L519.6,189.6 L521.6,179.2 L522.9,176.7 L523.5,185.9 L523.9,194.9 L524.6,206.7 L526.1,212.0 L527.5,218.4 L528.8,223.7 L529.2,213.1 L529.4,202.7 L530.0,193.5 L532.0,196.3 L533.7,200.0 L535.3,197.5 L536.6,187.1 L537.9,185.9 L539.2,194.9 L539.9,201.4 L540.5,212.0 L541.2,221.0 L541.8,228.8 L543.1,228.8 L544.4,221.0 L545.8,214.5 L547.1,209.2 L548.4,206.7 L549.7,215.9 L551.6,218.4 L552.9,228.8 L554.2,234.1 L554.8,235.7 L556.2,245.5 L557.2,254.3 L558.7,262.2 L560.1,271.0 L561.1,278.8 L561.7,288.6 L562.1,297.5 L563.0,286.7 L565.0,284.7 L566.6,287.6 L567.9,284.7 L568.9,293.5 L570.5,297.5 L571.9,302.4 L572.8,312.2 L573.8,318.0 L574.8,312.2 L575.8,306.3 L576.8,298.4 L578.3,290.6 L579.3,298.4 L580.7,302.4 L582.3,306.3 L583.2,314.1 L584.6,323.9 L586.0,331.8 L587.2,339.6 L588.5,345.5 L590.1,337.6 L591.1,325.9 L592.1,314.1 L593.4,306.3 L594.8,298.4 L596.0,292.5 L597.0,284.7 L598.3,273.9 L599.9,276.9 L601.3,282.7 L603.2,286.7 L604.6,290.6 L605.8,282.7 L606.6,279.8 L608.1,282.7 L610.5,286.7 L611.7,298.4 L613.6,302.4 L615.6,310.2 L616.8,316.1 L618.7,310.2 L620.7,314.1 L622.6,316.1 L624.8,318.0 L626.2,325.9 L627.4,333.7 L628.3,341.6 L629.3,349.4 L631.3,359.6 L632.6,369.4 L634.0,381.2 L635.6,375.3 L637.2,385.1 L638.5,390.0 L640.5,385.1 L642.5,379.2 L643.8,387.1 L645.4,391.0 L647.0,396.9 L648.3,392.9 L650.3,392.9 L652.3,383.1 L654.2,373.3 L656.2,374.3 L658.1,376.3 L661.9,394.3 L663.2,384.5 L664.4,378.6 L666.4,374.7 L668.3,372.7 L670.3,377.6 L672.3,384.5 L674.2,388.4 L676.6,392.4 L678.9,396.3 L680.5,404.1 L681.5,415.9 L682.5,423.7 L684.0,427.6 L685.4,431.6 L687.4,432.5 L688.7,425.7 L689.9,419.8 L691.3,426.7 L693.2,427.6 L695.2,429.6 L697.2,431.6 L699.1,435.5 L701.1,439.4 L703.0,441.6 L705.0,447.5 L707.0,450.4 L708.9,451.4 L709.9,456.3 L711.9,457.3 L713.8,467.1 L714.8,471.0 L715.8,451.4 L717.7,447.5 L719.7,442.5 L721.7,444.5 L722.6,449.4 L724.0,453.3 L725.6,459.2 L727.2,467.1 L729.1,469.0 L730.5,472.9 L732.1,478.8 L733.4,476.9 L735.0,473.9 L736.4,476.9 L738.3,479.8 L739.7,482.7 L741.3,490.6 L743.2,494.5 L745.2,493.5 L747.2,496.5 L748.7,494.5 L750.7,490.6 L752.6,487.6 L755.0,483.7 L757.0,478.8 L758.5,471.0 L759.9,469.0 L761.3,472.9 L762.5,470.0 L763.8,473.9 L765.8,478.8 L768.3,477.8 L770.7,476.9 L772.6,475.9 L774.2,471.0 L776.2,459.2 L777.5,455.3 L780.1,456.3 L782.1,465.1 L784.4,462.2 L786.8,459.2 L788.7,460.2 L790.3,465.1 L791.9,471.0 L793.2,476.9 L795.2,477.8 L797.2,475.9 L799.1,472.9 L801.1,471.0 L803.0,471.0 L805.0,472.9 L807.0,472.9 L808.9,470.0 L810.9,467.1 L812.8,463.1 L814.8,460.2 L816.8,457.3 L818.1,452.4 L819.7,445.5 L821.3,441.6 L822.6,437.6 L824.0,433.7 L825.6,430.8 L827.5,428.8 L829.1,426.9 L830.5,430.8 L832.5,431.8 L834.4,428.8 L836.4,435.7 L838.3,438.6 L839.7,445.5 L840.9,441.6 L842.3,439.6 L844.2,437.6 L846.2,438.6 L848.1,442.5 L850.1,441.6 L852.1,439.6 L854.0,435.7 L855.0,433.7 L864.6,419.0 L867.5,415.1 L870.5,410.2 L872.5,411.2 L874.4,413.1 L876.0,407.3 L878.3,401.4 L881.3,399.4 L883.2,397.5 L884.2,405.3 L886.2,409.2 L887.7,413.1 L889.1,415.1 L891.1,407.3 L893.0,397.5 L895.0,393.5 L897.0,395.5 L898.9,391.6 L900.9,387.6 L902.8,388.6 L904.8,389.6 L906.8,387.6 L908.7,389.6 L910.7,394.5 L912.6,396.5 L914.0,389.6 L915.6,383.7 L917.5,376.9 L919.5,375.9 L921.5,373.9 L923.4,372.0 L925.4,374.9 L927.4,377.8 L929.3,370.0 L931.3,366.1 L933.2,362.2 L936.2,360.2 L938.7,356.3 L941.1,352.4 L943.0,346.5 L945.0,342.5 L947.0,336.7 L948.9,332.7 L951.9,331.8 L953.2,326.9 L954.8,322.9 L956.8,319.0 L958.7,317.1 L960.7,311.2 L962.6,307.3 L964.6,303.3 L965.6,309.2 L966.6,313.1 L968.1,302.4 L969.5,300.4 L970.9,301.4 L972.5,303.3 L974.0,311.2 L975.4,319.0 L976.8,324.9 L978.3,330.8 L979.9,337.6 L981.3,342.5 L982.3,350.4 L983.2,362.2 L984.6,368.0 L985.8,361.2 L987.7,356.3 L989.1,360.2 L990.5,364.1 L991.7,368.0 L993.0,373.9 L994.4,382.7 L996.0,377.8 L997.5,372.0 L998.9,364.1 L1000.9,358.2 L1002.8,352.4 L1004.8,346.5 L1006.8,344.5 L1008.7,342.5 L1010.1,347.5 L1011.7,352.4 L1013.2,358.2 L1014.6,364.1 L1016.6,362.2 L1017.9,370.0 L1019.1,373.9 L1020.5,362.2 L1021.9,356.3 L1023.4,352.4 L1025.4,348.4 L1027.4,346.5 L1029.3,340.6 L1031.3,336.7 L1033.2,334.7 L1035.2,333.7 L1037.2,340.6 L1038.7,345.5 L1040.9,336.3 L1042.8,329.4 L1044.8,327.5 L1046.8,324.5 L1049.1,323.5 L1051.1,322.5 L1052.6,312.7 L1054.6,310.8 L1056.6,308.8 L1058.5,308.8 L1060.5,314.7 L1062.5,323.5 L1063.4,334.3 L1064.4,324.5 L1066.0,321.6 L1067.4,315.7 L1069.3,314.7 L1071.3,310.8 L1073.2,314.7 L1075.2,318.6 L1076.6,312.7 L1078.5,314.7 L1080.5,318.6 L1082.1,326.5 L1083.6,336.3 L1085.2,340.2 L1087.0,330.4 L1088.9,328.4 L1090.9,320.6 L1092.8,318.6 L1094.8,318.6 L1096.8,324.5 L1098.7,325.5 L1100.7,322.5 L1102.1,323.5 L1103.6,330.4 L1105.6,325.5 L1107.9,325.5 L1109.5,331.4 L1111.5,336.3 L1113.0,344.1 L1115.0,350.0 L1117.0,352.0 L1118.9,351.0 L1120.9,353.9 L1122.8,355.9 L1124.8,352.9 L1126.8,350.0 L1128.7,348.0 L1131.1,350.0 L1133.0,346.1 L1135.0,342.2 L1137.0,341.2 L1138.9,344.1 L1140.9,346.1 L1142.8,343.1 L1144.8,344.1 L1146.8,346.1 L1148.7,352.0 L1150.7,348.0 L1152.6,344.1 L1154.6,343.1 L1156.6,346.1 L1158.5,347.1 L1160.5,342.2 L1162.5,336.3 L1164.4,334.3 L1166.8,333.3 L1168.7,335.3 L1170.7,337.3 L1173.2,336.3 L1175.8,334.3 L1177.2,344.1 L1178.5,352.0 L1180.5,353.9 L1182.5,355.9 L1184.4,359.8 L1186.4,362.7 L1188.3,363.7 L1189.9,367.6 L1191.9,375.5 L1193.4,381.4 L1194.8,385.3 L1195.3,385.7 L1197.3,386.7 L1199.2,388.6 L1200.2,393.5 L1201.6,391.6 L1203.1,387.6 L1205.1,384.7 L1207.1,385.7 L1209.0,383.7 L1211.0,385.7 L1212.9,391.6 L1214.9,393.5 L1216.9,392.5 L1218.8,395.5 L1220.8,393.5 L1222.7,391.6 L1224.7,394.5 L1226.7,391.6 L1228.6,391.6 L1230.6,393.5 L1232.5,397.5 L1234.1,403.3 L1235.5,408.2 L1237.5,411.2 L1239.4,413.1 L1241.4,409.2 L1243.3,404.3 L1245.3,401.4 L1247.3,403.3 L1249.2,399.4 L1251.2,396.5 L1253.1,391.6 L1255.1,389.6 L1257.1,387.6 L1259.0,383.7 L1261.0,381.8 L1263.9,380.2 L1264.9,379.8 L1266.9,381.8 L1268.8,383.7 L1270.8,384.7 L1272.7,386.7 L1274.7,382.7 L1275.7,377.3 L1277.6,376.3 L1279.6,377.3 L1281.6,379.2 L1284.5,380.8 L1286.5,381.8 L1288.4,383.7 L1289.4,377.3 L1291.4,375.3 L1293.3,373.3 L1295.3,372.4 L1297.3,373.3 L1299.2,375.3 L1301.2,377.3 L1304.1,382.7 L1306.1,383.7 L1308.0,381.8 L1311.0,377.3 L1312.5,369.4 L1313.3,359.6 L1314.9,351.8 L1316.9,349.8 L1318.8,343.9 L1320.8,336.1 L1322.7,332.2 L1324.7,329.2 L1326.7,327.3 L1328.6,330.2 L1330.6,332.2 L1332.5,330.2 L1334.5,329.2 L1336.5,322.4 L1338.4,320.4 L1340.0,322.4 L1341.4,326.3 L1342.7,334.1 L1344.3,342.0 L1345.3,351.8 L1346.3,357.6 L1347.8,359.6 L1349.2,357.6 L1350.6,355.7 L1352.2,354.7" fill="none" stroke="#141016" stroke-width="1.7" stroke-dasharray="4 5.4" stroke-linecap="round" stroke-linejoin="round"/><line x1="75.5" y1="18" x2="75.5" y2="651" stroke="#03140a" stroke-width="1.75"/><line x1="1355.4" y1="18" x2="1355.4" y2="651" stroke="#86868c" stroke-width="1.3"/><line x1="74.6" y1="650.1" x2="1356" y2="650.1" stroke="#0a0a0c" stroke-width="1.85"/><line x1="75" y1="18.50" x2="80" y2="18.50" stroke="#000" stroke-width="1.5"/><line x1="75" y1="123.85" x2="80" y2="123.85" stroke="#000" stroke-width="1.5"/><line x1="75" y1="229.20" x2="80" y2="229.20" stroke="#000" stroke-width="1.5"/><line x1="75" y1="334.55" x2="80" y2="334.55" stroke="#000" stroke-width="1.5"/><line x1="75" y1="439.90" x2="80" y2="439.90" stroke="#000" stroke-width="1.5"/><line x1="75" y1="545.25" x2="80" y2="545.25" stroke="#000" stroke-width="1.5"/><line x1="75" y1="650.60" x2="80" y2="650.60" stroke="#000" stroke-width="1.5"/><line x1="1355" y1="18.50" x2="1360" y2="18.50" stroke="#86868c" stroke-width="1.3"/><line x1="1355" y1="81.71" x2="1360" y2="81.71" stroke="#86868c" stroke-width="1.3"/><line x1="1355" y1="144.92" x2="1360" y2="144.92" stroke="#86868c" stroke-width="1.3"/><line x1="1355" y1="208.13" x2="1360" y2="208.13" stroke="#86868c" stroke-width="1.3"/><line x1="1355" y1="271.34" x2="1360" y2="271.34" stroke="#86868c" stroke-width="1.3"/><line x1="1355" y1="334.55" x2="1360" y2="334.55" stroke="#86868c" stroke-width="1.3"/><line x1="1355" y1="397.76" x2="1360" y2="397.76" stroke="#86868c" stroke-width="1.3"/><line x1="1355" y1="460.97" x2="1360" y2="460.97" stroke="#86868c" stroke-width="1.3"/><line x1="1355" y1="524.18" x2="1360" y2="524.18" stroke="#86868c" stroke-width="1.3"/><line x1="1355" y1="587.39" x2="1360" y2="587.39" stroke="#86868c" stroke-width="1.3"/><line x1="1355" y1="650.60" x2="1360" y2="650.60" stroke="#86868c" stroke-width="1.3"/><line x1="75.50" y1="650" x2="75.50" y2="655" stroke="#000" stroke-width="1.5"/><line x1="148.06" y1="650" x2="148.06" y2="655" stroke="#000" stroke-width="1.5"/><line x1="220.62" y1="650" x2="220.62" y2="655" stroke="#000" stroke-width="1.5"/><line x1="293.18" y1="650" x2="293.18" y2="655" stroke="#000" stroke-width="1.5"/><line x1="365.74" y1="650" x2="365.74" y2="655" stroke="#000" stroke-width="1.5"/><line x1="438.30" y1="650" x2="438.30" y2="655" stroke="#000" stroke-width="1.5"/><line x1="510.86" y1="650" x2="510.86" y2="655" stroke="#000" stroke-width="1.5"/><line x1="583.42" y1="650" x2="583.42" y2="655" stroke="#000" stroke-width="1.5"/><line x1="655.98" y1="650" x2="655.98" y2="655" stroke="#000" stroke-width="1.5"/><line x1="728.54" y1="650" x2="728.54" y2="655" stroke="#000" stroke-width="1.5"/><line x1="801.10" y1="650" x2="801.10" y2="655" stroke="#000" stroke-width="1.5"/><line x1="873.66" y1="650" x2="873.66" y2="655" stroke="#000" stroke-width="1.5"/><line x1="946.22" y1="650" x2="946.22" y2="655" stroke="#000" stroke-width="1.5"/><line x1="1018.78" y1="650" x2="1018.78" y2="655" stroke="#000" stroke-width="1.5"/><line x1="1091.34" y1="650" x2="1091.34" y2="655" stroke="#000" stroke-width="1.5"/><line x1="1163.90" y1="650" x2="1163.90" y2="655" stroke="#000" stroke-width="1.5"/><line x1="1236.46" y1="650" x2="1236.46" y2="655" stroke="#000" stroke-width="1.5"/><line x1="1309.02" y1="650" x2="1309.02" y2="655" stroke="#000" stroke-width="1.5"/><rect x="856.5" y="26.5" width="469.5" height="77" fill="none" stroke="#0c0612" stroke-width="1.8"/><line x1="890.5" y1="40.3" x2="944" y2="40.3" stroke="#1d9fda" stroke-width="1.8"/><line x1="890.5" y1="65" x2="944" y2="65" stroke="#167c12" stroke-width="1.8"/><line x1="891" y1="91.4" x2="940" y2="91.4" stroke="#111" stroke-width="1.7" stroke-linecap="round" stroke-dasharray="4.2 6.7"/><line x1="1125" y1="40.3" x2="1178.7" y2="40.3" stroke="#c40f1c" stroke-width="1.7"/><line x1="1125" y1="65" x2="1178.7" y2="65" stroke="#17111b" stroke-width="1.8"/><ellipse cx="435.65" cy="110.75" rx="41.8" ry="40.85" fill="none" stroke="#ff0000" stroke-width="4.6"/><ellipse cx="743.35" cy="491.05" rx="41.8" ry="40.85" fill="none" stroke="#ff0000" stroke-width="4.6"/><ellipse cx="976.2" cy="306.35" rx="41.8" ry="40.85" fill="none" stroke="#ff0000" stroke-width="4.6"/><line x1="1265.6" y1="461.2" x2="1252.6" y2="419.5" stroke="#ff0000" stroke-width="3.7" stroke-dasharray="17.5 13.5 40"/><polygon points="1247.5,403.3 1244.1,422 1260.8,417.1" fill="#ff0000"/></svg>
<div class="t yl" style="left:-6px;top:10.9px">1600</div>
<div class="t yl" style="left:-6px;top:116.2px">1400</div>
<div class="t yl" style="left:-6px;top:221.6px">1200</div>
<div class="t yl" style="left:-6px;top:326.9px">1000</div>
<div class="t yl" style="left:-6px;top:432.3px">800</div>
<div class="t yl" style="left:-6px;top:537.6px">600</div>
<div class="t yl" style="left:-6px;top:643.0px">400</div>
<div class="t yr" style="left:1373.7px;top:10.9px">5000</div>
<div class="t yr" style="left:1373.7px;top:74.1px">4500</div>
<div class="t yr" style="left:1373.7px;top:137.3px">4000</div>
<div class="t yr" style="left:1373.7px;top:200.5px">3500</div>
<div class="t yr" style="left:1373.7px;top:263.7px">3000</div>
<div class="t yr" style="left:1373.7px;top:326.9px">2500</div>
<div class="t yr" style="left:1373.7px;top:390.2px">2000</div>
<div class="t yr" style="left:1373.7px;top:453.4px">1500</div>
<div class="t yr" style="left:1373.7px;top:516.6px">1000</div>
<div class="t yr" style="left:1373.7px;top:579.8px">500</div>
<div class="t yr" style="left:1373.7px;top:643.0px">0</div>
<div class="t dt" style="left:70.0px;top:753px">2006<i>-</i>07<i>-</i>24</div>
<div class="t dt" style="left:142.6px;top:753px">2006<i>-</i>10<i>-</i>23</div>
<div class="t dt" style="left:215.1px;top:753px">2007<i>-</i>01<i>-</i>18</div>
<div class="t dt" style="left:287.7px;top:753px">2007<i>-</i>04<i>-</i>19</div>
<div class="t dt" style="left:360.2px;top:753px">2007<i>-</i>07<i>-</i>19</div>
<div class="t dt" style="left:432.8px;top:753px">2007<i>-</i>10<i>-</i>18</div>
<div class="t dt" style="left:505.4px;top:753px">2008<i>-</i>01<i>-</i>14</div>
<div class="t dt" style="left:577.9px;top:753px">2008<i>-</i>04<i>-</i>15</div>
<div class="t dt" style="left:650.5px;top:753px">2008<i>-</i>07<i>-</i>11</div>
<div class="t dt" style="left:723.0px;top:753px">2008<i>-</i>10<i>-</i>13</div>
<div class="t dt" style="left:795.6px;top:753px">2009<i>-</i>01<i>-</i>07</div>
<div class="t dt" style="left:868.2px;top:753px">2009<i>-</i>04<i>-</i>09</div>
<div class="t dt" style="left:940.7px;top:753px">2009<i>-</i>07<i>-</i>07</div>
<div class="t dt" style="left:1013.3px;top:753px">2009<i>-</i>09<i>-</i>29</div>
<div class="t dt" style="left:1085.8px;top:753px">2009<i>-</i>12<i>-</i>30</div>
<div class="t dt" style="left:1158.4px;top:753px">2010<i>-</i>04<i>-</i>01</div>
<div class="t dt" style="left:1231.0px;top:753px">2010<i>-</i>07<i>-</i>01</div>
<div class="t dt" style="left:1303.5px;top:753px">2010<i>-</i>09<i>-</i>28</div>
<div class="t lg" style="left:951px;top:35.5px">复苏指数</div>
<div class="t lg" style="left:951px;top:60.5px">滞胀指数</div>
<div class="t lg" style="left:951px;top:87px">沪深<span style="letter-spacing:0.7px">300</span>指数</div>
<div class="t lg" style="left:1186px;top:35.5px">过热指数</div>
<div class="t lg" style="left:1186px;top:60.5px">衰退指数</div>
<div class="t ph" style="left:118.3px;top:592.6px">复苏</div>
<div class="t ph" style="left:308.3px;top:592.6px">过热</div>
<div class="t ph" style="left:527.3px;top:592.6px">滞涨</div>
<div class="t ph" style="left:677.3px;top:592.6px">衰退</div>
<div class="t ph" style="left:774.3px;top:592.6px">复苏</div>
<div class="t ph" style="left:890.8px;top:592.6px">过热</div>
<div class="t ph" style="left:1127.3px;top:592.6px">滞涨</div>
<div class="t an" style="left:1190px;top:461px">沪深 300 右轴，</div>
<div class="t an" style="left:1190px;top:490.6px">其余指标左轴</div>
</body></html>
